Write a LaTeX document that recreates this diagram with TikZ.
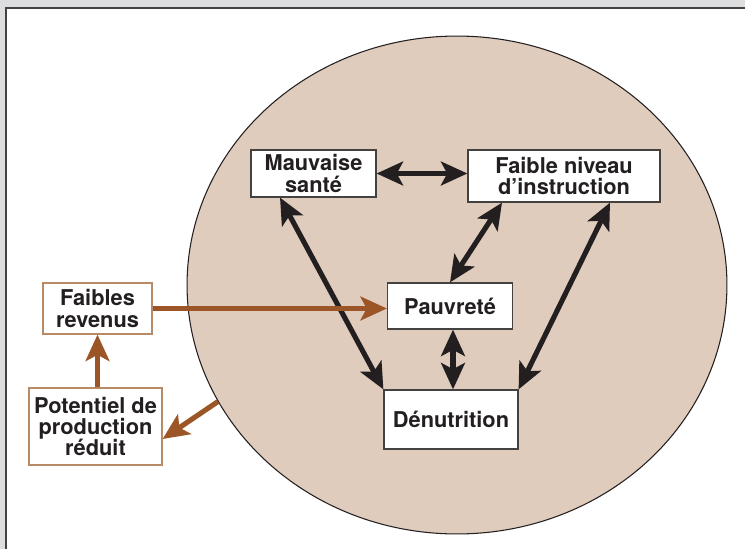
\documentclass[tikz,border=0pt]{standalone}
\usepackage{fontspec}
\setmainfont{TeX Gyre Heros}
\usetikzlibrary{arrows.meta,shapes.geometric}
\definecolor{brun}{HTML}{9C5527}
\definecolor{beige}{HTML}{DFCCBC}
\definecolor{gris}{HTML}{DCDDDF}
\definecolor{encre}{HTML}{231F20}
\definecolor{bordbrun}{HTML}{B98A66}
\tikzset{
    EL/.style ={ellipse, minimum width = 10.8cm, minimum height = 9.96cm, inner sep=0pt, draw=encre, fill=beige, line width=0.6pt},
    RA1/.style ={rectangle, draw=encre!85, fill=white, line width=0.7pt, align=center, inner sep=0pt, text=encre, font=\fontsize{12.4}{12.2}\selectfont\bfseries},
    RA2/.style ={RA1, draw=bordbrun},
    AR1/.style ={line width=2.9pt, encre, {Stealth[length=15pt,width=13.5pt,inset=3.5pt]}-{Stealth[length=15pt,width=13.5pt,inset=3.5pt]}},
    AR2/.style ={line width=2.9pt, brun, -{Stealth[length=15pt,width=13.5pt,inset=3.5pt]}}}

\begin{document}
\begin{tikzpicture}[x=0.02cm,y=-0.02cm]
        \useasboundingbox (0,0) rectangle (745,549);
        \fill[gris] (0,0) rectangle (745,549);
        \fill[white] (6,8) rectangle (745,549);
        \draw[line width=1.2pt,encre!85] (6,549) -- (6,8) -- (745,8);
        \node[EL] (0) at(457,285){};
        \node[RA1,minimum width=2.5cm,minimum height=0.94cm] (1) at(313.5,173.5){Mauvaise\\sant\'e};
        \node[RA1,minimum width=3.84cm,minimum height=1.04cm] (2) at(564,176){Faible niveau\\d'instruction};
        \node[RA1,minimum width=2.5cm,minimum height=0.92cm] (3) at(450,306){Pauvret\'e};
        \node[RA1,minimum width=2.68cm,minimum height=1.18cm] (4) at(451,419.5){D\'enutrition};
        \node[RA2,minimum width=2.18cm,minimum height=1.02cm] (5) at(97.5,308.5){Faibles\\revenus};
        \node[RA2,minimum width=2.66cm,minimum height=1.54cm] (6) at(95.5,426.5){Potentiel de\\production\\r\'eduit};
        \draw[AR1] (1.east) -- (1.east -| 2.west);
        \draw[AR1] ([xshift=-0.67cm]1.south) -- (4.north west);
        \draw[AR1] ([xshift=-1.24cm]2.south) -- (3.north);
        \draw[AR1] ([xshift=0.92cm]2.south) -- (4.north east);
        \draw[AR1] ([xshift=0.06cm]3.south) -- ([xshift=0.06cm]3.south |- 4.north);
        \draw[AR2] (5.east) -- (5.east -| 3.west);
        \draw[AR2] (6.north -| 5.south) -- (5.south);
        \draw[AR2] (0.206) -- ([yshift=-0.25cm]6.east);
    \end{tikzpicture}
\end{document}
